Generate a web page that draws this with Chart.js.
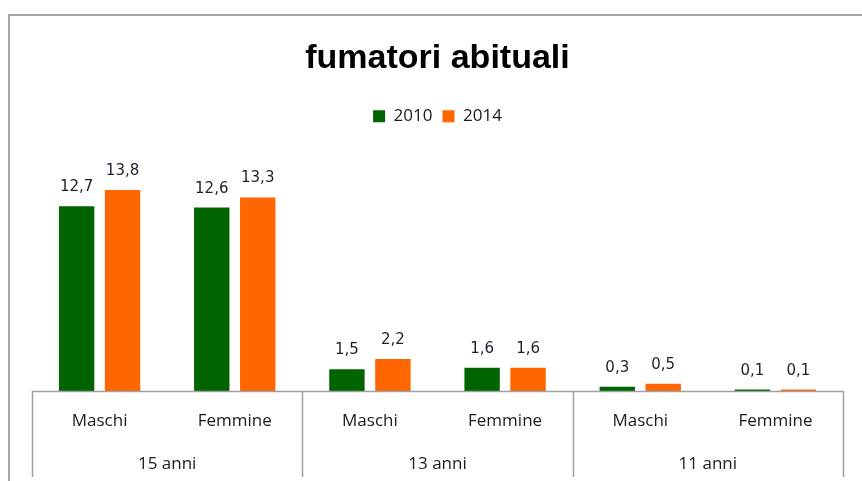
<!DOCTYPE html>
<html>
<head>
<meta charset="utf-8">
<script src="https://cdn.jsdelivr.net/npm/chart.js@4.4.1/dist/chart.umd.min.js"></script>
<style>
  html, body { margin: 0; padding: 0; background: #fff; }
  #wrap { width: 862px; height: 481px; }
</style>
</head>
<body>
<div id="wrap"><canvas id="fumoChart" width="862" height="481"></canvas></div>
<script>
// dati
const categories = ['Maschi', 'Femmine', 'Maschi', 'Femmine', 'Maschi', 'Femmine'];
const groups = ['15 anni', '13 anni', '11 anni'];
const years = ['2010', '2014'];
const serie2010 = [12.7, 12.6, 1.5, 1.6, 0.3, 0.1];
const serie2014 = [13.8, 13.3, 2.2, 1.6, 0.5, 0.1];

const textFont = '"Open Sans", "Liberation Sans", sans-serif';

// cornice esterna (solo lato sinistro e superiore visibili)
const framePlugin = {
  id: 'frame',
  beforeDraw(chart) {
    const ctx = chart.ctx;
    ctx.save();
    ctx.strokeStyle = '#a6a6a6';
    ctx.lineWidth = 2;
    ctx.beginPath();
    ctx.moveTo(9, 481);
    ctx.lineTo(9, 15);
    ctx.lineTo(862, 15);
    ctx.stroke();
    ctx.restore();
  }
};

// asse x a due livelli
const groupAxisPlugin = {
  id: 'groupAxis',
  afterDraw(chart) {
    const ctx = chart.ctx;
    const xs = chart.scales.x;
    const area = chart.chartArea;
    const step = (area.right - area.left) / categories.length;
    ctx.save();
    ctx.strokeStyle = '#a0a0a0';
    ctx.lineWidth = 1.5;
    ctx.beginPath();
    ctx.moveTo(area.left, area.bottom + 0.5);
    ctx.lineTo(area.right, area.bottom + 0.5);
    for (let g = 0; g <= groups.length; g++) {
      const x = Math.round(area.left + g * 2 * step) + 0.5;
      ctx.moveTo(x, area.bottom);
      ctx.lineTo(x, 477);
    }
    ctx.stroke();

    ctx.fillStyle = '#1a1a1a';
    ctx.font = '17px ' + textFont;
    ctx.textAlign = 'center';
    ctx.textBaseline = 'middle';
    categories.forEach((c, i) => {
      ctx.fillText(c, xs.getPixelForValue(i), area.bottom + 30);
    });
    groups.forEach((g, i) => {
      const x = (xs.getPixelForValue(2 * i) + xs.getPixelForValue(2 * i + 1)) / 2;
      ctx.fillText(g, x, area.bottom + 73);
    });
    ctx.restore();
  }
};

// etichette dei valori con la virgola decimale
const valueLabels = {
  id: 'valueLabels',
  afterDatasetsDraw(chart) {
    const ctx = chart.ctx;
    ctx.save();
    ctx.fillStyle = '#1f1f2f';
    ctx.font = '15px "DejaVu Sans", Verdana, sans-serif';
    ctx.textAlign = 'center';
    ctx.textBaseline = 'alphabetic';
    chart.data.datasets.forEach((ds, di) => {
      chart.getDatasetMeta(di).data.forEach((bar, i) => {
        const txt = ds.data[i].toFixed(1).replace('.', ',');
        ctx.fillText(txt, bar.x, bar.y - 15);
      });
    });
    ctx.restore();
  }
};

const ctx = document.getElementById('fumoChart').getContext('2d');
new Chart(ctx, {
  type: 'bar',
  data: {
    labels: categories,
    datasets: [
      {
        label: years[0],
        data: serie2010,
        backgroundColor: '#006400',
        categoryPercentage: 0.68,
        barPercentage: 0.77
      },
      {
        label: years[1],
        data: serie2014,
        backgroundColor: '#ff6600',
        categoryPercentage: 0.68,
        barPercentage: 0.77
      }
    ]
  },
  options: {
    responsive: false,
    animation: false,
    layout: { padding: { top: 20, left: 32, right: 19, bottom: 90 } },
    plugins: {
      title: {
        display: true,
        text: 'fumatori abituali',
        color: '#000',
        font: { family: '"Liberation Sans", Arial, sans-serif', size: 34, weight: 'bold' },
        padding: { top: 18, bottom: 19 }
      },
      legend: {
        display: true,
        labels: {
          color: '#1a1a1a',
          font: { family: textFont, size: 17 },
          boxWidth: 12,
          boxHeight: 12,
          padding: 10
        }
      },
      tooltip: { enabled: false }
    },
    scales: {
      x: { display: false },
      y: { display: false, min: 0, max: 17.6 }
    }
  },
  plugins: [framePlugin, groupAxisPlugin, valueLabels]
});
</script>
</body>
</html>
